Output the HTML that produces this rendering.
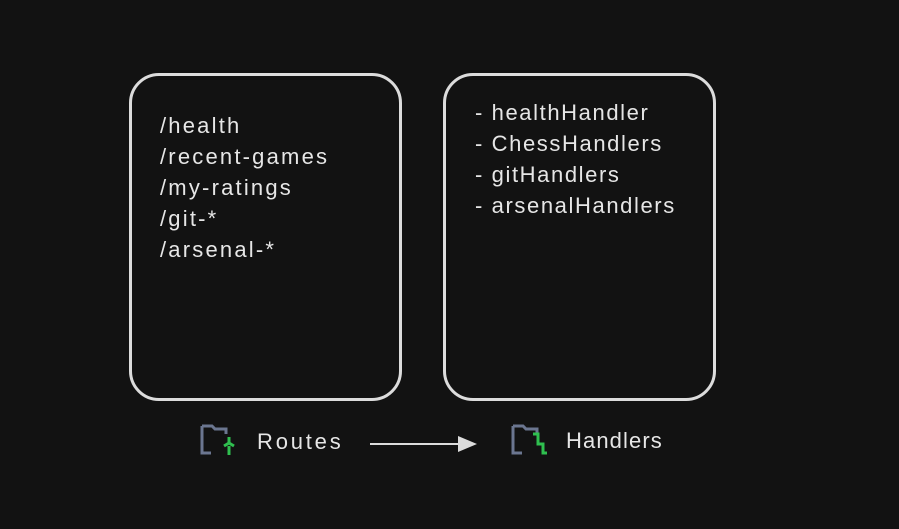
<!DOCTYPE html>
<html><head><style>
body{margin:0;width:899px;height:529px;background:#121212;overflow:hidden;position:relative;font-family:"Liberation Sans",sans-serif;color:#e6e6e6}
.box{position:absolute;border:3px solid #dcdcdc;border-radius:30px;box-sizing:border-box}
.t{position:absolute;font-size:22px;line-height:31px;white-space:pre;letter-spacing:2.2px}
</style></head><body>
<div class="box" style="left:129px;top:73px;width:273px;height:328px"></div>
<div class="box" style="left:443px;top:73px;width:273px;height:328px"></div>
<div class="t" style="left:160px;top:110px">/health
/recent-games
/my-ratings
/git-*
/arsenal-*</div>
<div class="t" style="left:475px;top:97px;letter-spacing:1.6px">- healthHandler
- ChessHandlers
- gitHandlers
- arsenalHandlers</div>
<svg width="899" height="529" style="position:absolute;left:0;top:0">
<path d="M202 426 h10 l3 3 h11 v5 M202 426 v27 h9" fill="none" stroke="#6b7690" stroke-width="3"/>
<path d="M229 437 v6 l-5 3 m5 -3 l5 3 m-5 0 v9" fill="none" stroke="#2fbf4f" stroke-width="3"/>
<path d="M513 426 h10 l3 3 h11 v5 M513 426 v27 h9" fill="none" stroke="#6b7690" stroke-width="3"/>
<path d="M533 434 h5 v10 h5 v9 h4" fill="none" stroke="#2fbf4f" stroke-width="3"/>
<line x1="370" y1="444" x2="460" y2="444" stroke="#dcdcdc" stroke-width="2"/>
<polygon points="458,436 477,444 458,452" fill="#dcdcdc"/>
</svg>
<div class="t" style="left:257px;top:426px;letter-spacing:2.8px">Routes</div>
<div class="t" style="left:566px;top:425px;letter-spacing:1.1px">Handlers</div>
</body></html>
